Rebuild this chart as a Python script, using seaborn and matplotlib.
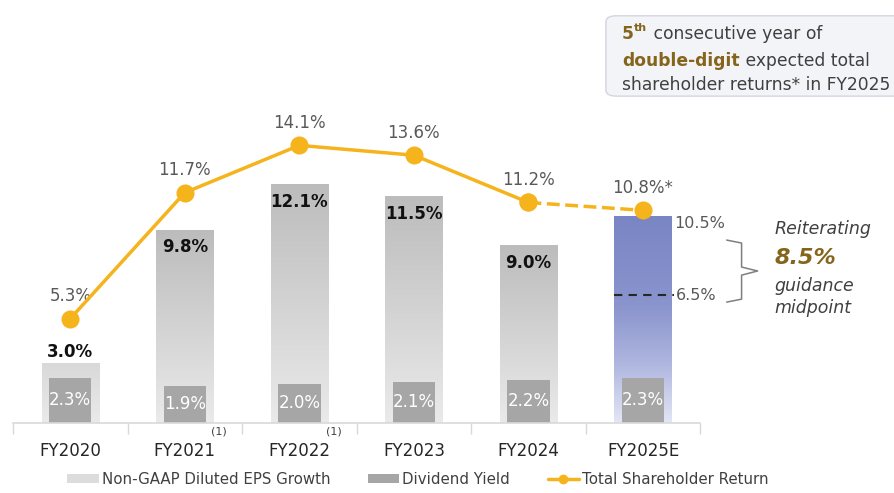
import numpy as np
import pandas as pd
import seaborn as sns
import matplotlib.pyplot as plt
import matplotlib.transforms as mtransforms
from matplotlib.colors import LinearSegmentedColormap
from matplotlib.patches import Patch, FancyBboxPatch
from matplotlib.lines import Line2D

years = ["FY2020", "FY2021", "FY2022", "FY2023", "FY2024", "FY2025E"]
eps_growth = [3.0, 9.8, 12.1, 11.5, 9.0, 10.5]
div_yield = [2.3, 1.9, 2.0, 2.1, 2.2, 2.3]
tsr = [5.3, 11.7, 14.1, 13.6, 11.2, 10.8]
tsr_labels = ["5.3%", "11.7%", "14.1%", "13.6%", "11.2%", "10.8%*"]
guidance_low = 6.5
guidance_mid = 8.5
footnoted = ["FY2021", "FY2022"]

gold = "#F5B31C"
brown = "#85651C"
txt = "#595959"
dark = "#404040"

sns.set_theme(style="white")
plt.rcParams["font.family"] = ["DejaVu Sans"]

fig = plt.figure(figsize=(8.95, 4.93), dpi=100)
ax = fig.add_axes([0.0145, 0.142, 0.768, 0.639])

df = pd.DataFrame({"year": years, "eps": eps_growth, "div": div_yield})
x = np.arange(len(years))

# EPS growth bars, refilled with a vertical gradient
sns.barplot(data=df, x="year", y="eps", width=0.5, color="#cccccc", ax=ax,
            zorder=1, linewidth=0)
eps_bars = list(ax.patches)
gray_cmap = LinearSegmentedColormap.from_list("g", ["#eaeaea", "#bcbcbc"])
blue_cmap = LinearSegmentedColormap.from_list(
    "b", [(0, "#e3e6f5"), (0.3, "#adb4de"), (0.57, "#8a94cd"), (1, "#7a85c4")])
for i, p in enumerate(eps_bars):
    x0, w, h = p.get_x(), p.get_width(), p.get_height()
    if years[i].endswith("E"):
        cmap, top = blue_cmap, 1.0
    else:
        cmap, top = gray_cmap, min(1.0, h / 8)
    grad = np.linspace(0, top, 256).reshape(-1, 1)
    ax.imshow(grad, cmap=cmap, vmin=0, vmax=1, extent=[x0, x0 + w, 0, h],
              origin="lower", aspect="auto", zorder=1)
    p.set_facecolor("none")

# dividend yield bars
sns.barplot(data=df, x="year", y="div", width=0.37, color="#a6a6a6", ax=ax,
            zorder=2, linewidth=0, saturation=1)
ax.bar_label(ax.containers[-1], labels=[f"{v:.1f}%" for v in div_yield],
             label_type="center", color="white", fontsize=12, zorder=5)

for i, v in enumerate(eps_growth):
    if years[i].endswith("E"):
        continue
    if i == 0:
        ax.annotate(f"{v:.1f}%", (i, v), xytext=(0, 2), textcoords="offset points",
                    ha="center", va="bottom", fontsize=12, fontweight="bold", color="#111111")
    else:
        ax.annotate(f"{v:.1f}%", (i, v), xytext=(0, -6), textcoords="offset points",
                    ha="center", va="top", fontsize=12, fontweight="bold", color="#111111")

# total shareholder return line
sns.lineplot(x=x[4:], y=tsr[4:], color=gold, linewidth=2.5, linestyle="--",
             marker="o", markersize=13, markeredgewidth=0, ax=ax, zorder=4)
sns.lineplot(x=x[:5], y=tsr[:5], color=gold, linewidth=2.5,
             marker="o", markersize=13, markeredgewidth=0, ax=ax, zorder=4)
for i, (v, lab) in enumerate(zip(tsr, tsr_labels)):
    ax.annotate(lab, (i, v), xytext=(0, 16), textcoords="offset points",
                ha="center", va="center", fontsize=12, color=txt)

# guidance range on FY2025E
last = len(years) - 1
ax.plot([last - 0.25, last + 0.27], [guidance_low, guidance_low], color="#262626",
        linewidth=1.5, dashes=(4, 3), zorder=5)
ax.text(last + 0.27, eps_growth[-1], f"{eps_growth[-1]:.1f}%", ha="left", va="top",
        fontsize=11.5, color=txt)
ax.text(last + 0.29, guidance_low, f"{guidance_low:.1f}%", ha="left", va="center",
        fontsize=11.5, color=txt)
ax.plot([5.73, 5.86, 5.86, 6.0, 5.86, 5.86, 5.73],
        [9.29, 9.14, 7.92, 7.72, 7.51, 6.29, 6.14],
        color="#7f7f7f", linewidth=1.1, clip_on=False)
ax.text(6.15, 9.85, "Reiterating", ha="left", va="center", fontsize=12.5,
        style="italic", color=dark)
ax.text(6.15, 8.38, f"{guidance_mid:.1f}%", ha="left", va="center", fontsize=16,
        style="italic", fontweight="bold", color=brown)
ax.text(6.15, 6.95, "guidance", ha="left", va="center", fontsize=12.5,
        style="italic", color=dark)
ax.text(6.15, 5.84, "midpoint", ha="left", va="center", fontsize=12.5,
        style="italic", color=dark)

# axes styling
ax.set_xlim(-0.5, 5.5)
ax.set_ylim(0, 16)
ax.set_xlabel("")
ax.set_ylabel("")
ax.set_yticks([])
for s in ["top", "left", "right"]:
    ax.spines[s].set_visible(False)
ax.spines["bottom"].set_color("#d9d9d9")
ax.spines["bottom"].set_linewidth(1.2)
ax.set_xticks(x)
ax.set_xticklabels(years, fontsize=12, color="#262626")
ax.set_xticks(np.arange(-0.5, 6, 1), minor=True)
ax.tick_params(axis="x", which="major", length=0, pad=14)
ax.tick_params(axis="x", which="minor", length=8, width=1, color="#d9d9d9", bottom=True)
blend = mtransforms.blended_transform_factory(ax.transData, ax.transAxes)
for name in footnoted:
    ax.text(years.index(name) + 0.3, -0.028, "(1)", transform=blend, fontsize=8,
            ha="center", va="center", color=dark)

# legend
handles = [Patch(facecolor="#dcdcdc", edgecolor="none"),
           Patch(facecolor="#a6a6a6", edgecolor="none"),
           Line2D([0], [0], color=gold, linewidth=2.5, marker="o", markersize=6)]
fig.legend(handles, ["Non-GAAP Diluted EPS Growth", "Dividend Yield", "Total Shareholder Return"],
           loc="center", bbox_to_anchor=(0.467, 0.027), ncol=3, frameon=False,
           fontsize=10.8, handlelength=2.1, handleheight=0.55, handletextpad=0.2,
           columnspacing=2.5, labelcolor=dark)

# call-out box
box = FancyBboxPatch((0.677, 0.805), 0.34, 0.163, boxstyle="round,pad=0,rounding_size=0.012",
                     facecolor="#f3f4f8", edgecolor="#d3d6e0", linewidth=1,
                     transform=fig.transFigure)
fig.add_artist(box)

renderer = fig.canvas.get_renderer()
W = fig.bbox.width


def text_run(x0, y0, pieces):
    # place text pieces one after another on a shared baseline
    xpos = x0
    for s, kw in pieces:
        t = fig.text(xpos, y0, s, va="baseline", ha="left", **kw)
        bb = t.get_window_extent(renderer)
        xpos = bb.x1 / W
    return xpos


bold_brown = dict(color=brown, fontweight="bold", fontsize=12.3)
plain = dict(color=dark, fontsize=12.3)
xa = text_run(0.695, 0.921, [("5", bold_brown)])
fig.text(xa, 0.937, "th", va="baseline", ha="left", color=brown, fontweight="bold", fontsize=8)
text_run(xa + 0.016, 0.921, [(" consecutive year of", plain)])
text_run(0.695, 0.867, [("double-digit", bold_brown), (" expected total", plain)])
text_run(0.695, 0.818, [("shareholder returns* in FY2025", plain)])

fig.savefig("out.png", dpi=100)
